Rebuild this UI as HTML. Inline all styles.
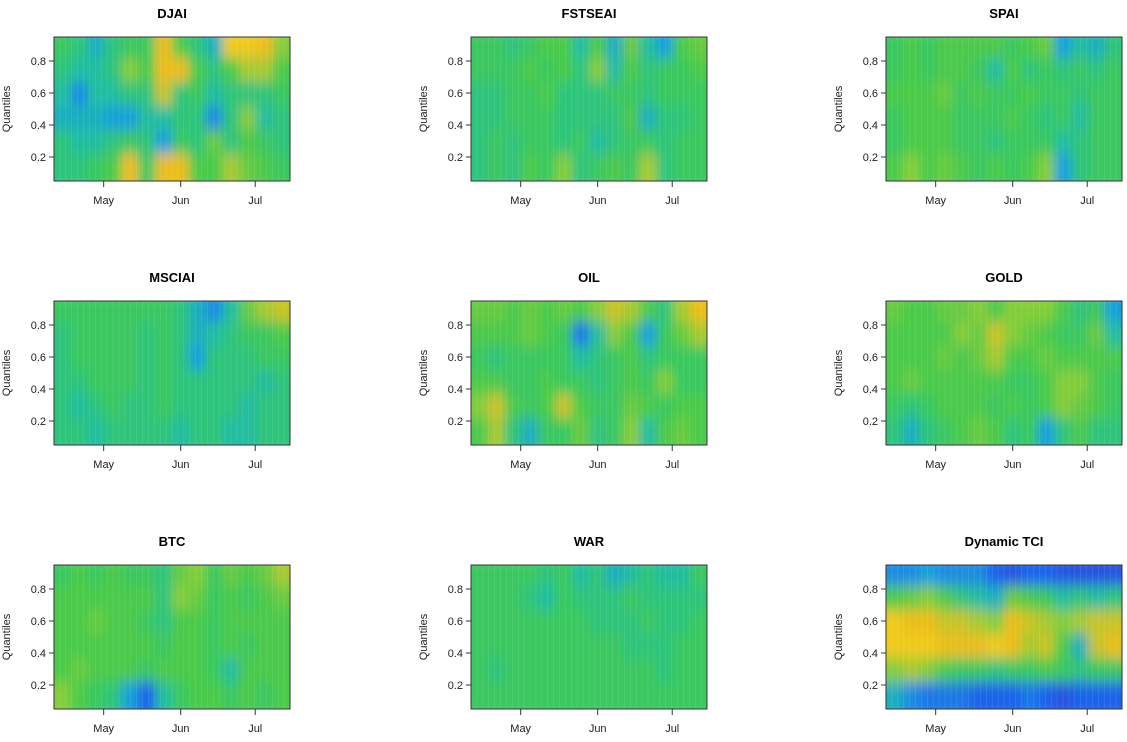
<!DOCTYPE html>
<html><head><meta charset="utf-8">
<style>
body{margin:0;background:#fff;width:1127px;height:737px;overflow:hidden;font-family:"Liberation Sans",Arial,sans-serif}
svg text{font-family:"Liberation Sans",Arial,sans-serif}
</style></head>
<body>
<svg id="chart" width="1127" height="737" xmlns="http://www.w3.org/2000/svg">
<defs><filter id="blur" x="-5%" y="-5%" width="110%" height="110%"><feGaussianBlur stdDeviation="5 7"/></filter></defs>
</svg>
<script>
// Data arrays (columns = weekly periods from mid-Apr to mid-Jul; rows = quantiles, top row first)
const weeks = ["Apr-11","Apr-18","Apr-25","May-02","May-09","May-16","May-23","May-30","Jun-06","Jun-13","Jun-20","Jun-27","Jul-04","Jul-11"];
const quantiles = [0.9, 0.75, 0.6, 0.45, 0.3, 0.12];
const monthTicks = ["May","Jun","Jul"];
const monthTickDay = [20, 51, 81];  // days after Apr 11
const yTicks = [0.2, 0.4, 0.6, 0.8];
const titles = ["DJAI","FSTSEAI","SPAI","MSCIAI","OIL","GOLD","BTC","WAR","Dynamic TCI"];
const djai = [
 [.55,.5,.4,.5,.55,.55,.85,.6,.5,.4,.9,.9,.85,.7],
 [.5,.45,.45,.5,.7,.6,.85,.85,.6,.5,.6,.75,.75,.6],
 [.45,.3,.45,.45,.5,.5,.8,.5,.55,.45,.5,.5,.5,.55],
 [.4,.4,.4,.35,.35,.45,.45,.5,.5,.3,.5,.7,.45,.5],
 [.5,.45,.45,.5,.55,.5,.35,.55,.5,.65,.5,.6,.55,.5],
 [.5,.5,.55,.6,.85,.55,.85,.85,.6,.6,.75,.65,.6,.55]];
const fstseai = [
 [.55,.55,.5,.55,.6,.6,.45,.6,.4,.65,.45,.35,.6,.65],
 [.55,.55,.55,.6,.55,.6,.5,.7,.45,.6,.5,.55,.55,.6],
 [.5,.5,.55,.55,.6,.5,.5,.5,.55,.55,.5,.55,.55,.55],
 [.5,.5,.55,.55,.55,.5,.5,.5,.5,.6,.4,.5,.5,.55],
 [.5,.55,.5,.55,.55,.5,.55,.45,.5,.55,.55,.5,.55,.55],
 [.5,.55,.5,.6,.55,.7,.5,.55,.6,.55,.75,.5,.55,.55]];
const spai = [
 [.55,.6,.55,.6,.6,.6,.6,.55,.6,.65,.35,.45,.4,.5],
 [.55,.6,.55,.6,.6,.55,.45,.6,.5,.55,.5,.55,.5,.55],
 [.6,.6,.6,.65,.55,.6,.55,.55,.6,.55,.55,.5,.55,.55],
 [.55,.6,.6,.6,.55,.55,.55,.6,.55,.5,.55,.45,.55,.55],
 [.55,.6,.6,.6,.55,.55,.5,.55,.55,.55,.45,.5,.55,.55],
 [.6,.7,.6,.65,.6,.55,.6,.55,.6,.7,.35,.5,.55,.55]];
const msciai = [
 [.55,.55,.55,.55,.55,.55,.55,.5,.4,.3,.45,.65,.75,.8],
 [.5,.55,.55,.55,.55,.5,.55,.5,.4,.45,.5,.55,.55,.6],
 [.5,.55,.55,.55,.55,.5,.55,.5,.35,.5,.5,.5,.55,.55],
 [.5,.5,.55,.55,.55,.5,.55,.5,.5,.5,.5,.5,.45,.5],
 [.5,.45,.5,.55,.5,.5,.55,.5,.5,.5,.5,.45,.5,.5],
 [.5,.5,.45,.5,.5,.5,.5,.45,.5,.5,.45,.45,.5,.5]];
const oil = [
 [.65,.65,.6,.65,.6,.65,.6,.7,.8,.75,.6,.5,.75,.85],
 [.6,.6,.6,.65,.6,.55,.25,.45,.7,.6,.35,.55,.65,.75],
 [.55,.5,.55,.55,.55,.55,.45,.5,.55,.6,.5,.55,.55,.55],
 [.6,.6,.55,.55,.6,.55,.55,.5,.55,.6,.55,.7,.55,.55],
 [.7,.8,.6,.55,.6,.8,.6,.55,.55,.65,.6,.55,.6,.6],
 [.6,.75,.5,.4,.55,.55,.65,.5,.55,.7,.45,.6,.65,.6]];
const gold = [
 [.65,.6,.6,.65,.65,.7,.6,.7,.7,.7,.6,.5,.55,.35],
 [.6,.6,.6,.6,.7,.65,.8,.7,.65,.6,.55,.55,.65,.45],
 [.6,.6,.6,.65,.6,.65,.75,.6,.6,.65,.6,.6,.6,.6],
 [.6,.65,.6,.6,.6,.6,.6,.55,.55,.6,.7,.7,.6,.55],
 [.55,.5,.55,.6,.6,.6,.55,.6,.55,.6,.7,.65,.6,.55],
 [.5,.4,.5,.55,.6,.65,.6,.5,.55,.35,.5,.6,.5,.5]];
const btc = [
 [.55,.6,.55,.6,.55,.55,.5,.65,.7,.55,.65,.6,.65,.75],
 [.6,.6,.6,.6,.6,.6,.5,.7,.65,.55,.6,.55,.6,.65],
 [.6,.6,.65,.6,.6,.55,.5,.6,.6,.55,.6,.6,.6,.6],
 [.6,.6,.6,.6,.6,.6,.55,.6,.6,.55,.6,.55,.6,.6],
 [.6,.65,.6,.6,.6,.55,.6,.6,.6,.55,.45,.6,.6,.6],
 [.7,.6,.55,.5,.35,.2,.45,.55,.6,.6,.55,.6,.55,.6]];
const war = [
 [.55,.55,.55,.55,.5,.55,.45,.5,.4,.45,.5,.45,.45,.55],
 [.55,.55,.55,.5,.45,.55,.5,.5,.5,.55,.5,.5,.5,.5],
 [.55,.55,.55,.55,.55,.55,.55,.5,.5,.5,.55,.5,.5,.55],
 [.55,.55,.55,.55,.55,.55,.55,.55,.55,.5,.5,.5,.55,.55],
 [.55,.5,.55,.55,.55,.55,.55,.55,.55,.55,.55,.5,.55,.55],
 [.55,.55,.55,.55,.55,.55,.55,.55,.55,.55,.55,.55,.55,.55]];
const tci = [
 [.3,.3,.35,.3,.3,.3,.2,.15,.2,.2,.15,.15,.15,.15],
 [.6,.65,.7,.6,.5,.45,.4,.65,.6,.55,.45,.5,.45,.5],
 [.9,.85,.85,.8,.8,.75,.7,.85,.8,.75,.7,.75,.8,.8],
 [.9,.9,.9,.85,.85,.85,.9,.85,.75,.8,.6,.4,.8,.85],
 [.7,.75,.7,.6,.55,.55,.5,.55,.55,.6,.55,.5,.55,.55],
 [.4,.3,.25,.25,.25,.2,.2,.2,.25,.2,.15,.2,.2,.2]];
const panels = [djai,fstseai,spai,msciai,oil,gold,btc,war,tci];

const svg = document.getElementById('chart');
const NS = "http://www.w3.org/2000/svg";
const colX = [54, 471, 886], rowY = [37, 301, 565], PW = 236, PH = 144, DAYS = 95;
const stops = [[0,[60,40,200]],[0.2,[30,100,235]],[0.35,[25,160,220]],[0.45,[35,190,160]],[0.52,[50,198,110]],[0.6,[75,202,75]],[0.72,[145,205,55]],[0.85,[235,190,30]],[1,[250,225,30]]];
function color(v){v=Math.max(0,Math.min(1,v));for(let i=1;i<stops.length;i++){if(v<=stops[i][0]){const a=stops[i-1],b=stops[i],t=(v-a[0])/(b[0]-a[0]);const c=a[1].map((x,k)=>Math.round(x+(b[1][k]-x)*t));return `rgb(${c})`;}}return 'rgb(250,225,30)';}
function el(tag, attrs, parent){const e=document.createElementNS(NS,tag);for(const k in attrs)e.setAttribute(k,attrs[k]);(parent||svg).appendChild(e);return e;}

panels.forEach((data, p) => {
  const ox = colX[p%3], oy = rowY[Math.floor(p/3)];
  const xScale = i => ox + i * PW / weeks.length;
  const xDay = d => ox + d * PW / DAYS;
  const yScale = q => oy + (0.95 - q) / 0.9 * PH;
  const g = el('g', {});
  
  
  const cp = el('clipPath', {id: 'cp'+p}, g);
  el('rect', {x: ox, y: oy, width: PW, height: PH}, cp);
  const hm = el('g', {'clip-path': `url(#cp${p})`}, g);
  const inner = el('g', {filter: 'url(#blur)'}, hm);
  const rowEdges = [0.95, 0.82, 0.67, 0.52, 0.37, 0.22, 0.05];
  data.forEach((row, r) => {
    row.forEach((v, c) => {
      const x0 = xScale(c), x1 = xScale(c+1);
      const y0 = yScale(rowEdges[r]), y1 = yScale(rowEdges[r+1]);
      const pad = (c===0||c===row.length-1||r===0||r===data.length-1) ? 10 : 0;
      const cell = el('rect', {x: x0 - (c===0?pad:0), y: y0 - (r===0?pad:0), width: x1-x0 + (c===0||c===row.length-1?pad:0)+0.5, height: y1-y0 + (r===0||r===data.length-1?pad:0)+0.5, fill: color(v)}, inner);
      
      
    });
  });
  for (let i = 1; i < 40; i++) el('line', {x1: ox+i*PW/40, x2: ox+i*PW/40, y1: oy, y2: oy+PH, stroke: 'rgba(255,255,255,0.15)', 'stroke-width': 0.6}, hm);
  const frame = el('rect', {x: ox, y: oy, width: PW, height: PH, fill: 'none', stroke: '#333', 'stroke-width': 1}, g);
  
  
  const t = el('text', {x: ox + PW/2, y: oy - 19, 'text-anchor': 'middle', 'font-size': 13, 'font-weight': 'bold', fill: '#000'}, g);
  t.textContent = titles[p];
  
  
  yTicks.forEach(q => {
    const y = yScale(q);
    el('line', {x1: ox-5, x2: ox, y1: y, y2: y, stroke: '#333'}, g);
    const lt = el('text', {x: ox-8, y: y+4, 'text-anchor': 'end', 'font-size': 11, fill: '#222'}, g);
    lt.textContent = q.toFixed(1);
    
    
  });
  monthTicks.forEach((m, i) => {
    const x = xDay(monthTickDay[i]);
    el('line', {x1: x, x2: x, y1: oy+PH, y2: oy+PH+6, stroke: '#333'}, g);
    const lt = el('text', {x: x, y: oy+PH+23, 'text-anchor': 'middle', 'font-size': 11, fill: '#222'}, g);
    lt.textContent = m;
    
    
  });
  const yt = el('text', {x: 0, y: 0, transform: `translate(${ox-44},${oy+PH/2}) rotate(-90)`, 'text-anchor': 'middle', 'font-size': 11, fill: '#222'}, g);
  yt.textContent = 'Quantiles';
  
  
});
</script>
</body></html>
